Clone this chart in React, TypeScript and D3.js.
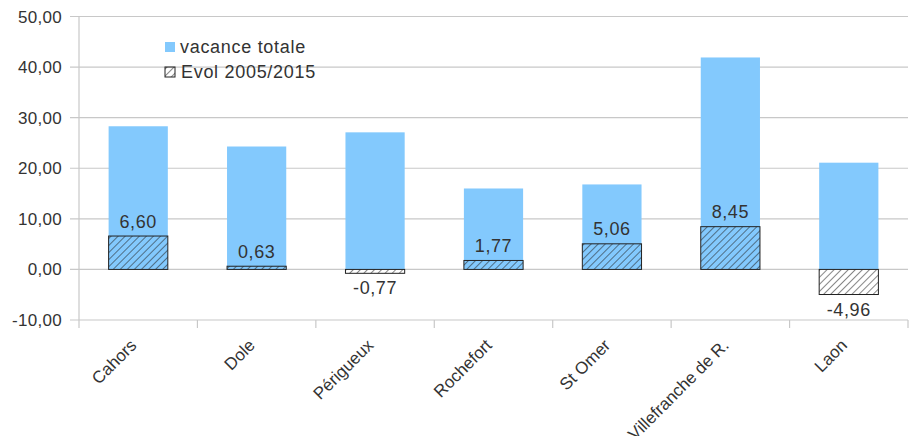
import React from "react";
import * as d3 from "d3";

const categories = ["Cahors", "Dole", "Périgueux", "Rochefort", "St Omer", "Villefranche de R.", "Laon"];
const vacanceTotale = [28.3, 24.3, 27.1, 16.0, 16.8, 41.9, 21.1];
const evol = [6.6, 0.63, -0.77, 1.77, 5.06, 8.45, -4.96];
const yTicks = [-10, 0, 10, 20, 30, 40, 50];
const seriesNames = ["vacance totale", "Evol 2005/2015"];

const W = 909;
const H = 436;
const left = 79;
const right = 908;
const top = 16.5;
const bottom = 320;
const blue = "#83c9fd";
const fmt = (v: number) => v.toFixed(2).replace(".", ",");
const font = "'Liberation Sans', Arial, sans-serif";

export default function App() {
  const x = d3.scaleBand<string>().domain(categories).range([left, right]).paddingInner(0.5).paddingOuter(0.25);
  const band = d3.scaleBand<string>().domain(categories).range([left, right]);
  const y = d3.scaleLinear().domain([-10, 50]).range([bottom, top]);
  const y0 = y(0);
  return (
    <div style={{ position: "absolute", left: 0, top: 0 }}>
      <svg width={W} height={H} style={{ display: "block", background: "#fff" }} fontFamily={font}>
        <defs>
          <pattern id="hatch" patternUnits="userSpaceOnUse" width="5" height="5" patternTransform="rotate(45)">
            <line x1="0" y1="0" x2="0" y2="5" stroke="#222" strokeWidth="1.1" />
          </pattern>
        </defs>
        {yTicks.map((t) => (
          <g key={t}>
            <line x1={70} x2={right} y1={y(t)} y2={y(t)} stroke="#c8c8c8" strokeWidth={1.2} />
            <text x={62} y={y(t) + 6} textAnchor="end" fontSize={17} letterSpacing={0.3} fill="#333">
              {fmt(t)}
            </text>
          </g>
        ))}
        <line x1={left} x2={left} y1={top} y2={bottom + 8} stroke="#c8c8c8" strokeWidth={1.2} />
        {categories.map((c) => (
          <line key={c} x1={(band(c) as number) + band.bandwidth()} x2={(band(c) as number) + band.bandwidth()} y1={bottom} y2={bottom + 8} stroke="#c8c8c8" strokeWidth={1.2} />
        ))}
        {categories.map((c, i) => (
          <rect key={c} x={x(c)} width={x.bandwidth()} y={y(vacanceTotale[i])} height={y0 - y(vacanceTotale[i])} fill={blue} />
        ))}
        {categories.map((c, i) => {
          const v = evol[i];
          const yt = v >= 0 ? y(v) : y0;
          const h = Math.abs(y(v) - y0);
          return (
            <g key={c}>
              <rect x={x(c)} width={x.bandwidth()} y={yt} height={h} fill="url(#hatch)" stroke="#222" strokeWidth={1} />
              <text
                x={(x(c) as number) + x.bandwidth() / 2}
                y={v >= 0 ? y(v) - 8.5 : y(v) + 21}
                textAnchor="middle"
                fontSize={18}
                letterSpacing={0.6}
                fill="#333"
              >
                {fmt(v)}
              </text>
            </g>
          );
        })}
        {categories.map((c) => {
          const cx = (x(c) as number) + x.bandwidth() / 2 - 9;
          const cy = 338;
          return (
            <text key={c} transform={`translate(${cx},${cy}) rotate(-45)`} textAnchor="end" fontSize={17} fill="#333" dy="0.7em">
              {c}
            </text>
          );
        })}
        <rect x={165} y={42} width={10} height={10} fill={blue} />
        <text x={180} y={52.7} fontSize={18} letterSpacing={0.7} fill="#333">{seriesNames[0]}</text>
        <rect x={165} y={67} width={10} height={10} fill="url(#hatch)" stroke="#222" strokeWidth={1} />
        <text x={181} y={77.5} fontSize={18} letterSpacing={0.7} fill="#333">{seriesNames[1]}</text>
      </svg>
    </div>
  );
}
